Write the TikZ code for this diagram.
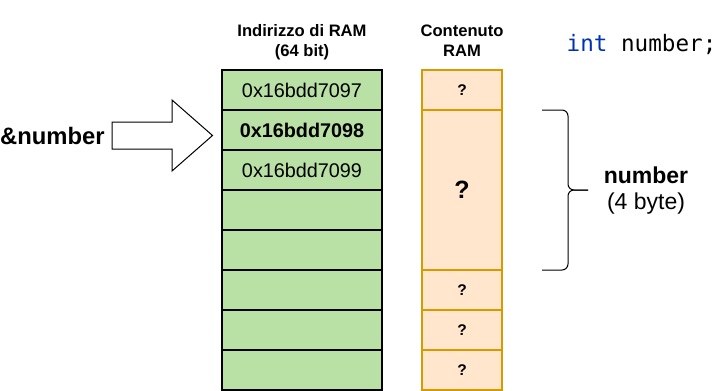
\documentclass[tikz,border=0pt]{standalone}
\usepackage{fontspec}
\setmainfont{Liberation Sans}
\newfontfamily\codefont{DejaVu Sans Mono}
\definecolor{cellgreen}{HTML}{B9E0A5}
\definecolor{cellorange}{HTML}{FFE6CC}
\definecolor{edgeorange}{HTML}{D79B00}
\definecolor{kwblue}{HTML}{0033B3}
\begin{document}
\begin{tikzpicture}[x=1pt,y=-1pt,
  gcell/.style={draw=black,fill=cellgreen,line width=1.3pt,minimum width=160pt,minimum height=40pt,inner sep=0pt,font=\fontsize{19.8}{23}\selectfont},
  ocell/.style={draw=edgeorange,fill=cellorange,line width=1.3pt,minimum width=80pt,minimum height=40pt,inner sep=0pt,font=\fontsize{15.5}{18}\selectfont\bfseries},
  head/.style={anchor=base,inner sep=0pt,font=\fontsize{16.6}{20}\selectfont\bfseries},
  big/.style={inner sep=0pt,font=\fontsize{23}{27}\selectfont}
]
\useasboundingbox (0,0) rectangle (718,391);
% headers
\node[head] (h1) at (302,36) {Indirizzo di RAM};
\node[head] (h2) at (302,56) {(64 bit)};
\node[head] (h3) at (462,36) {Contenuto};
\node[head] (h4) at (462,56) {RAM};
% code
\node[anchor=base west,inner sep=0pt,font=\codefont\fontsize{22.6}{26}\selectfont] (code) at (566.5,51) {\textcolor{kwblue}{int} number;};
% address cells
\node[gcell] (a1) at (302,90) {0x16bdd7097};
\node[gcell] (a2) at (302,130) {\bfseries 0x16bdd7098};
\node[gcell] (a3) at (302,170) {0x16bdd7099};
\node[gcell] (a4) at (302,210) {};
\node[gcell] (a5) at (302,250) {};
\node[gcell] (a6) at (302,290) {};
\node[gcell] (a7) at (302,330) {};
\node[gcell] (a8) at (302,370) {};
% content cells
\node[ocell] (c1) at (462,90) {?};
\node[ocell,minimum height=160pt,font=\fontsize{25}{30}\selectfont\bfseries] (c2) at (462,190) {?};
\node[ocell] (c3) at (462,290) {?};
\node[ocell] (c4) at (462,330) {?};
\node[ocell] (c5) at (462,370) {?};
% pointer label and block arrow
\node[big,anchor=base west,font=\fontsize{23.8}{27}\selectfont\bfseries] (ptr) at (0,144) {\&number};
\draw[line width=1pt,fill=white] (112,122) -- (172,122) -- (172,100) -- (212.5,135.5) -- (172,171) -- (172,149) -- (112,149) -- cycle;
% brace
\coordinate (bt) at (542,110);
\coordinate (bb) at (542,270);
\coordinate (btip) at (588,190);
\draw[line width=1pt,rounded corners=6pt] (bt) -- (568,110) -- (568,190) -- (btip);
\draw[line width=1pt,rounded corners=6pt] (bb) -- (568,270) -- (568,190) -- (btip);
% variable label
\node[big,anchor=base,font=\fontsize{23}{27}\selectfont\bfseries] (v1) at (646,183) {number};
\node[big,anchor=base] (v2) at (646,209) {(4 byte)};
\end{tikzpicture}
\end{document}
